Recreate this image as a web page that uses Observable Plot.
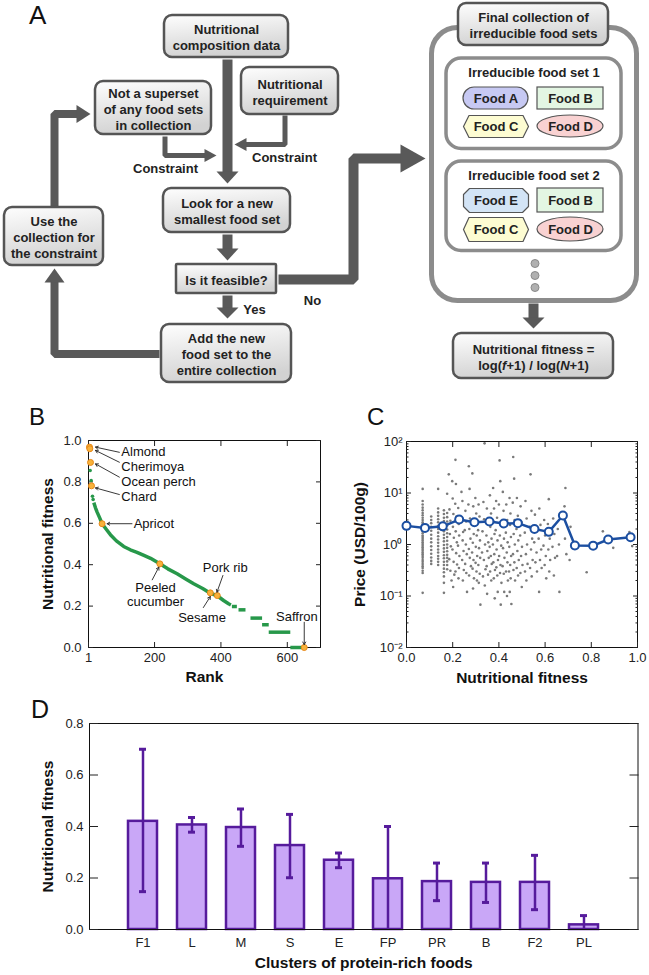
<!DOCTYPE html>
<html><head><meta charset="utf-8">
<script src="https://cdn.jsdelivr.net/npm/d3@7"></script>
<script src="https://cdn.jsdelivr.net/npm/@observablehq/plot@0.6"></script>
<style>
body{margin:0;background:#fff;}
#fig{position:relative;width:649px;height:975px;overflow:hidden;background:#fff;font-family:"Liberation Sans",Arial,Helvetica,sans-serif;}
.plabel{position:absolute;line-height:1;color:#111;font-family:"Liberation Sans",Arial,sans-serif;}
</style></head><body><div id="fig"></div>
<script>
// ================= Panel A (flowchart) =================
const flowBoxText = ["Nutritional\ncomposition data","Nutritional\nrequirement","Not a superset\nof any food sets\nin collection","Look for a new\nsmallest food set","Use the\ncollection for\nthe constraint","Is it feasible?","Add the new\nfood set to the\nentire collection","Final collection of\nirreducible food sets","Nutritional fitness =\nlog(f+1) / log(N+1)"];
const flowBoxLayout = [[164,15,288,57],[241,67,338,114],[95,81,211,134],[163,188,290,232],[4,207,103,265],[176,264,276,293],[161,324,291,382],[458,3,608,45],[453,333,613,378]];
const flowNoteText = ["Constraint","Constraint","Yes","No"];
const flowNoteLayout = [[165,168],[284,157],[254,309],[312,300]];
const setTitles = ["Irreducible food set 1","Irreducible food set 2"];
const setLayout = [[446,58,621,148.5],[446,161,621,250.5]];
const containerLayout = [431.5,27.5,636.5,300.5];
const foodNames = ["Food A","Food B","Food C","Food D","Food E","Food B","Food C","Food D"];
const foodShapes = ["pill","rect","hex","ellipse","oct","rect","hex","ellipse"];
const foodFill = ["#c7c9f3","#e3f6e3","#fdfcd2","#f9d2d2","#d3e4f6","#e3f6e3","#fdfcd2","#f9d2d2"];
const foodLayout = [[463,87,528,109],[537,87,603,109],[463,115,528,137],[537,115,603,137],[463,188,528,212],[537,188,603,212],[463,217,528,241],[537,217,603,241]];
const moreDotsLayout = [263,275,287];
const arrowPaths = [
  [[227,59],[227,183]],
  [[164.5,136],[164.5,155],[216,155]],
  [[284.5,115],[284.5,144],[234,144]],
  [[227,234],[227,260]],
  [[227,295],[227,318]],
  [[159,353.5],[54,353.5],[54,268]],
  [[54,207],[54,113.5],[90,113.5]],
  [[278,279],[353,279],[353,158],[425,158]],
  [[533,303],[533,328]]
];
const arrowWidth = [10,5,5,10,10,8,8,10,10];
const arrowHead = [[12,11],[12,6.5],[12,6.5],[12,11],[11,11],[14,10],[14,9],[25,14],[11,11]];

// ================= Panel B =================
const bRankTicks = [1,200,400,600];
const bFitTicks = [0,0.2,0.4,0.6,0.8,1.0];
const bMainRank = [17,22,27,35,42,55,67,85,107,127,147,168,188,216,240,268,295,318,345,368,389,408,423,430];
const bMainFit  = [0.70,0.675,0.654,0.625,0.598,0.57,0.545,0.515,0.488,0.472,0.46,0.445,0.431,0.404,0.38,0.356,0.33,0.308,0.285,0.262,0.25,0.227,0.211,0.205];
const bStepStart = [433,453,489,524,544,609];
const bStepEnd   = [448,474,524,544,609,651];
const bStepFit   = [0.198,0.182,0.142,0.11,0.074,0.0];
const bTopRank = [6,9,13,15];
const bTopFit  = [0.855,0.807,0.731,0.715];
const bFoods = ["Almond","Cherimoya","Ocean perch","Chard","Apricot","Peeled\ncucumber","Sesame","Pork rib","Saffron"];
const bFoodRank = [4,5,7,10,42,216,368,389,651];
const bFoodFit  = [0.968,0.96,0.894,0.781,0.598,0.404,0.264,0.251,0.0];
const bLabelRank = [100,100,100,100,137,203,343,413,629];
const bLabelFit  = [0.943,0.871,0.799,0.726,0.598,0.254,0.146,0.385,0.15];
const bLabelAnchor = ["start","start","start","start","start","middle","middle","middle","middle"];
const bArrowFromRank = [94,94,94,94,132,193,347,406,651];
const bArrowFromFit  = [0.943,0.895,0.823,0.739,0.598,0.327,0.193,0.348,0.122];
const bArrowToRank = [22,22,22,22,57,213,368,388,651];
const bArrowToFit  = [0.968,0.952,0.887,0.771,0.598,0.388,0.246,0.267,0.014];

// ================= Panel C =================
const cFitTicks = [0,0.2,0.4,0.6,0.8,1.0];
const cDecades = [0.01,0.1,1,10,100];
const cDecadeLabels = ["10\u207B\u00B2","10\u207B\u00B9","10\u2070","10\u00B9","10\u00B2"];
const cMinorTicks = [0.02,0.03,0.04,0.05,0.06,0.07,0.08,0.09,0.2,0.3,0.4,0.5,0.6,0.7,0.8,0.9,2,3,4,5,6,7,8,9,20,30,40,50,60,70,80,90];
const cColumnFit = [0.07,0.107,0.137,0.162,0.176];
const cColumnPrices = [
  [12,7,6,5.2,4.6,4.1,3.7,3.3,3.0,2.7,2.5,2.3,2.1,1.95,1.8,1.65,1.5,1.4,1.3,1.2,1.1,1.02,0.95,0.88,0.82,0.76,0.7,0.65,0.6,0.55,0.5,0.46,0.42,0.38,0.35,0.31,0.28,0.115],
  [3.5,3.0,2.6,2.2,1.85,1.55,1.3,1.1,0.92,0.78,0.66,0.56,0.48,0.42],
  [12,5,4.2,3.6,3.1,2.7,2.3,2.0,1.7,1.45,1.25,1.08,0.93,0.8,0.7,0.6,0.53,0.46,0.4],
  [4.6,3.9,3.3,2.85,2.45,2.1,1.8,1.55,1.33,1.15,0.98,0.84,0.72,0.62,0.54,0.46,0.4,0.34,0.29,0.24,0.18,0.115],
  [9.7,4.1,3.4,2.8,2.35,1.95,1.65,1.4,1.18,1.0,0.86,0.74,0.63,0.55,0.47,0.4,0.33]
];
const cScatterPairs = [
 [0.183,23],[0.186,4.8],[0.19,2.9],[0.188,1.6],[0.192,0.92],[0.185,0.52],[0.19,0.31],[0.195,0.2],
 [0.198,17],[0.2,7.8],[0.203,3.9],[0.201,2.2],[0.205,1.35],[0.199,0.8],[0.204,0.46],[0.207,0.26],[0.202,0.15],
 [0.212,44],[0.214,15],[0.211,6.2],[0.216,3.5],[0.213,1.8],[0.218,1.1],[0.215,0.68],[0.219,0.41],[0.212,0.3],
 [0.224,5.1],[0.226,2.5],[0.228,1.5],[0.223,0.95],[0.229,0.6],[0.227,0.35],[0.225,0.22],
 [0.238,10.5],[0.242,7],[0.24,3],[0.245,1.75],[0.243,1.2],[0.247,0.75],[0.241,0.5],[0.248,0.32],[0.244,0.2],
 [0.255,4.5],[0.258,2.8],[0.252,1.9],[0.257,1.0],[0.261,0.65],[0.254,0.42],[0.259,0.28],[0.262,0.12],
 [0.27,33],[0.273,12],[0.268,6],[0.275,3.2],[0.272,2.0],[0.277,1.3],[0.27,0.82],[0.274,0.55],[0.279,0.38],[0.271,0.25],
 [0.285,24],[0.289,5.5],[0.283,2.6],[0.291,1.6],[0.287,1.08],[0.284,0.7],[0.29,0.5],[0.286,0.34],[0.292,0.22],[0.288,0.14],
 [0.298,8],[0.302,4],[0.297,2.35],[0.304,1.5],[0.3,0.9],[0.306,0.6],[0.299,0.44],[0.303,0.3],[0.305,0.2],
 [0.312,6],[0.316,3.5],[0.31,1.9],[0.318,1.2],[0.314,0.85],[0.319,0.55],[0.311,0.4],[0.317,0.27],[0.313,0.18],[0.32,0.068],
 [0.338,92],[0.333,6.7],[0.336,3.1],[0.329,1.8],[0.34,1.0],[0.327,0.7],[0.335,0.5],[0.342,0.33],[0.331,0.24],[0.339,0.16],
 [0.348,5],[0.352,2.6],[0.346,1.5],[0.354,1.1],[0.35,0.75],[0.356,0.55],[0.347,0.38],[0.353,0.26],[0.349,0.11],
 [0.361,9],[0.366,4],[0.363,2.2],[0.368,1.3],[0.36,0.9],[0.365,0.6],[0.369,0.42],[0.362,0.3],[0.367,0.2],
 [0.375,12.5],[0.379,5],[0.377,2.8],[0.381,1.6],[0.374,1.0],[0.38,0.65],[0.376,0.45],[0.383,0.32],[0.378,0.22],[0.382,0.09],
 [0.388,7],[0.392,3.3],[0.386,1.9],[0.394,1.2],[0.39,0.8],[0.396,0.5],[0.389,0.36],[0.393,0.25],[0.395,0.12],
 [0.403,43],[0.406,17],[0.4,6],[0.409,2.5],[0.404,1.5],[0.41,0.95],[0.401,0.6],[0.407,0.4],[0.405,0.28],[0.411,0.18],[0.408,0.068],
 [0.417,10.5],[0.42,4.5],[0.415,2.2],[0.422,1.3],[0.418,0.85],[0.424,0.55],[0.416,0.38],[0.421,0.27],[0.423,0.12],
 [0.432,6],[0.436,3],[0.43,1.7],[0.438,1.1],[0.434,0.7],[0.437,0.45],[0.431,0.3],[0.439,0.2],[0.435,0.1],
 [0.446,8],[0.45,4],[0.448,2.4],[0.452,1.4],[0.445,0.9],[0.453,0.6],[0.449,0.4],[0.444,0.3],[0.451,0.22],[0.447,0.12],[0.454,0.07],
 [0.462,50],[0.466,19],[0.46,6.5],[0.468,3],[0.464,1.6],[0.469,1.0],[0.461,0.65],[0.467,0.45],[0.463,0.32],[0.47,0.2],
 [0.478,8],[0.482,3.6],[0.476,2.0],[0.484,1.2],[0.48,0.75],[0.486,0.5],[0.477,0.35],[0.483,0.25],
 [0.494,5.5],[0.498,2.7],[0.492,1.5],[0.5,0.9],[0.496,0.6],[0.502,0.4],[0.493,0.28],[0.499,0.15],
 [0.515,7],[0.52,3.2],[0.512,1.7],[0.522,1.0],[0.517,0.65],[0.524,0.42],[0.513,0.3],[0.519,0.2],
 [0.537,23],[0.541,4.5],[0.534,2.2],[0.544,1.3],[0.539,0.8],[0.546,0.5],[0.535,0.35],[0.542,0.24],
 [0.556,3.8],[0.561,1.9],[0.553,1.1],[0.563,0.7],[0.558,0.45],[0.565,0.3],
 [0.575,5],[0.58,2.4],[0.572,1.3],[0.583,0.8],[0.578,0.5],[0.585,0.35],[0.574,0.12],
 [0.596,3],[0.6,1.5],[0.593,0.95],[0.603,0.6],[0.598,0.4],[0.605,0.22],
 [0.616,7.6],[0.612,2.5],[0.62,1.3],[0.614,0.8],[0.622,0.5],[0.618,0.3],
 [0.635,3.2],[0.64,1.6],[0.632,0.9],[0.643,0.55],[0.638,0.25],
 [0.655,2.0],[0.66,1.0],[0.652,0.6],[0.662,0.12],
 [0.688,12.5],[0.684,5.5],[0.69,3.5],[0.686,1.3],[0.692,0.65],
 [0.706,0.5],[0.71,2.2],[0.72,0.85],[0.78,0.29],[0.85,1.8],[0.895,0.86],[0.977,0.93],[0.965,1.75]
];
const cBinFit   = [0.0,0.08,0.157,0.228,0.294,0.359,0.421,0.482,0.554,0.616,0.677,0.729,0.808,0.873,0.97];
const cBinPrice = [2.3,2.1,2.25,3.05,2.7,2.8,2.55,2.6,2.0,1.76,3.65,0.96,0.95,1.25,1.38];

// ================= Panel D =================
const dClusters = ["F1","L","M","S","E","FP","PR","B","F2","PL"];
const dMean = [0.42,0.406,0.396,0.326,0.269,0.197,0.186,0.183,0.183,0.018];
const dLow  = [0.147,0.378,0.323,0.201,0.24,0.0,0.112,0.105,0.077,0.0];
const dHigh = [0.70,0.435,0.468,0.447,0.297,0.40,0.258,0.258,0.288,0.054];
const dTicks = [0,0.2,0.4,0.6,0.8];

// ================= helpers =================
const FONT = '"Liberation Sans", Arial, Helvetica, sans-serif';
const fig = document.getElementById("fig");
function place(node, left, top) {
  node.style.position = "absolute";
  node.style.left = left + "px";
  node.style.top = top + "px";
  fig.appendChild(node);
}
function panelLabel(t, left, top, size) {
  const d = document.createElement("div");
  d.className = "plabel"; d.textContent = t; d.style.fontSize = size + "px";
  place(d, left, top);
}
const baseStyle = {fontFamily: FONT, fontSize: "13px", color: "#222", background: "transparent", overflow: "visible"};
const yTitle = (t, dx) => Plot.text([t], {frameAnchor: "left", dx, rotate: -90, textAnchor: "middle", lineAnchor: "middle", fontSize: 15.5, fontWeight: "bold", fill: "#111"});
const xTitle = (t, dy) => Plot.text([t], {frameAnchor: "bottom", dy, textAnchor: "middle", lineAnchor: "middle", fontSize: 15.5, fontWeight: "bold", fill: "#111"});

// ---------- build panel A ----------
const boxes = flowBoxText.map((t, i) => ({t, x1: flowBoxLayout[i][0], y1: flowBoxLayout[i][1], x2: flowBoxLayout[i][2], y2: flowBoxLayout[i][3]}));
const roundBoxes = boxes.filter((d, i) => i !== 5);
const sharpBoxes = boxes.filter((d, i) => i === 5);
const notes = flowNoteText.map((t, i) => ({t, x: flowNoteLayout[i][0], y: flowNoteLayout[i][1]}));
const sets = setTitles.map((t, i) => ({t, x1: setLayout[i][0], y1: setLayout[i][1], x2: setLayout[i][2], y2: setLayout[i][3]}));
const foods = foodNames.map((t, i) => ({t, shape: foodShapes[i], fill: foodFill[i], x1: foodLayout[i][0], y1: foodLayout[i][1], x2: foodLayout[i][2], y2: foodLayout[i][3]}));
const container = [{x1: containerLayout[0], y1: containerLayout[1], x2: containerLayout[2], y2: containerLayout[3]}];
const moreDots = moreDotsLayout.map(y => ({x: (container[0].x1 + container[0].x2) / 2 + 0.5, y}));

function polyPts(f) {
  const {x1, y1, x2, y2} = f, ym = (y1 + y2) / 2;
  if (f.shape === "hex") { const s = 5.5; return [[x1,ym],[x1+s,y1],[x2-s,y1],[x2,ym],[x2-s,y2],[x1+s,y2],[x1,ym]]; }
  const c = 6; return [[x1,y1+c],[x1+c,y1],[x2-c,y1],[x2,y1+c],[x2,y2-c],[x2-c,y2],[x1+c,y2],[x1,y2-c],[x1,y1+c]];
}
function arrowGeom(pts, hl, hw) {
  const n = pts.length, [tx, ty] = pts[n-1], [px, py] = pts[n-2];
  const L = Math.hypot(tx-px, ty-py), ux = (tx-px)/L, uy = (ty-py)/L;
  const bx = tx - ux*hl, by = ty - uy*hl;
  const shaft = pts.slice(0, n-1).concat([[bx + ux*1.5, by + uy*1.5]]);
  const head = [[bx - uy*hw, by + ux*hw], [tx, ty], [bx + uy*hw, by - ux*hw], [bx - uy*hw, by + ux*hw]];
  return {shaft, head};
}
const arrowMarks = arrowPaths.flatMap((p, i) => {
  const g = arrowGeom(p, arrowHead[i][0], arrowHead[i][1]);
  return [
    Plot.line(g.shaft, {x: d => d[0], y: d => d[1], stroke: "#595959", strokeWidth: arrowWidth[i], strokeLinejoin: "miter", strokeLinecap: "butt"}),
    Plot.line(g.head, {x: d => d[0], y: d => d[1], fill: "#595959", stroke: "none"})
  ];
});
const gradDefs = () => {
  const defs = document.createElementNS("http://www.w3.org/2000/svg", "defs");
  defs.innerHTML = '<linearGradient id="boxGrad" x1="0" y1="0" x2="0.25" y2="1"><stop offset="0" stop-color="#fefefe"/><stop offset="1" stop-color="#d2d2d2"/></linearGradient>';
  return defs;
};
const foodMarks = foods.map(f => {
  const ch = {x1: "x1", y1: "y1", x2: "x2", y2: "y2", fill: f.fill, stroke: "#555", strokeWidth: 1.2};
  if (f.shape === "rect") return Plot.rect([f], ch);
  if (f.shape === "pill") return Plot.rect([f], {...ch, rx: 11});
  if (f.shape === "ellipse") return Plot.rect([f], {...ch, rx: 33, ry: 12});
  return Plot.line(polyPts(f), {x: d => d[0], y: d => d[1], fill: f.fill, stroke: "#555", strokeWidth: 1.2});
});
const cx = d => (d.x1 + d.x2) / 2, cy = d => (d.y1 + d.y2) / 2;

const plotA = Plot.plot({
  width: 649, height: 390, margin: 0,
  x: {domain: [0, 649], range: [0, 649], axis: null},
  y: {domain: [0, 390], range: [0, 390], axis: null},
  style: baseStyle,
  marks: [
    gradDefs,
    Plot.rect(container, {x1: "x1", y1: "y1", x2: "x2", y2: "y2", rx: 26, fill: "white", stroke: "#8c8c8c", strokeWidth: 5}),
    Plot.rect(sets, {x1: "x1", y1: "y1", x2: "x2", y2: "y2", rx: 15, fill: "white", stroke: "#8c8c8c", strokeWidth: 3.5}),
    ...arrowMarks,
    Plot.rect(roundBoxes, {x1: "x1", y1: "y1", x2: "x2", y2: "y2", rx: 8, fill: "url(#boxGrad)", stroke: "#555", strokeWidth: 2.5}),
    Plot.rect(sharpBoxes, {x1: "x1", y1: "y1", x2: "x2", y2: "y2", rx: 1, fill: "url(#boxGrad)", stroke: "#555", strokeWidth: 2.5}),
    ...foodMarks,
    Plot.dot(moreDots, {x: "x", y: "y", r: 4, fill: "#b0b0b0", stroke: "#8a8a8a", strokeWidth: 1}),
    Plot.text(boxes, {x: cx, y: d => cy(d) + 0.5, text: "t", fontSize: 13, fontWeight: "bold", lineHeight: 1.23, fill: "#222"}),
    Plot.text(sets, {x: cx, y: d => d.y1 + 14, text: "t", fontSize: 13, fontWeight: "bold", fill: "#222"}),
    Plot.text(foods, {x: cx, y: d => cy(d) + 0.5, text: "t", fontSize: 13, fontWeight: "bold", fill: "#222"}),
    Plot.text(notes, {x: "x", y: "y", text: "t", fontSize: 13, fontWeight: "bold", fill: "#222"})
  ]
});
plotA.querySelectorAll("tspan, text").forEach(el => {
  if (el.childElementCount === 0 && el.textContent === "log(f+1) / log(N+1)") {
    el.innerHTML = 'log(<tspan font-style="italic">f</tspan>+1) / log(<tspan font-style="italic">N</tspan>+1)';
  }
});
place(plotA, 0, 0);

// ---------- build panel B ----------
const bCurve = [
  ...bMainRank.map((r, i) => ({rank: r, fit: bMainFit[i], seg: "main"})),
  ...bStepStart.flatMap((s, i) => [{rank: s, fit: bStepFit[i], seg: "s" + i}, {rank: bStepEnd[i], fit: bStepFit[i], seg: "s" + i}])
];
const bTop = bTopRank.map((r, i) => ({rank: r, fit: bTopFit[i]}));
const bAnn = bFoods.map((n, i) => ({name: n, rank: bFoodRank[i], fit: bFoodFit[i], lx: bLabelRank[i], ly: bLabelFit[i], anchor: bLabelAnchor[i],
  x1: bArrowFromRank[i], y1: bArrowFromFit[i], x2: bArrowToRank[i], y2: bArrowToFit[i]}));
const green = "#27984a";
const plotB = Plot.plot({
  width: 330, height: 300, marginLeft: 88, marginRight: 10, marginTop: 40, marginBottom: 53,
  x: {domain: [1, 700]}, y: {domain: [0, 1]},
  style: baseStyle,
  marks: [
    Plot.frame({stroke: "#111", strokeWidth: 1}),
    Plot.axisX({ticks: bRankTicks, tickSize: -5, tickPadding: 10, label: null, fontSize: 13}),
    Plot.axisX({anchor: "top", ticks: bRankTicks, tickSize: -5, tickFormat: () => "", label: null}),
    Plot.axisY({ticks: bFitTicks, tickSize: -5, tickPadding: 12, tickFormat: ".1f", label: null, fontSize: 13}),
    Plot.axisY({anchor: "right", ticks: bFitTicks, tickSize: -5, tickFormat: () => "", label: null}),
    Plot.line(bCurve, {x: "rank", y: "fit", z: "seg", stroke: green, strokeWidth: 3.5, strokeLinecap: "butt"}),
    Plot.dot(bTop, {x: "rank", y: "fit", r: 1.8, fill: green}),
    Plot.dot(bAnn, {x: "rank", y: "fit", r: 3, fill: "#f7b23b", stroke: "#e8891a", strokeWidth: 1}),
    Plot.arrow(bAnn, {x1: "x1", y1: "y1", x2: "x2", y2: "y2", stroke: "#222", strokeWidth: 0.9, headLength: 5}),
    Plot.text(bAnn.filter(d => d.anchor === "start"), {x: "lx", y: "ly", text: "name", textAnchor: "start", fontSize: 13, fill: "#111"}),
    Plot.text(bAnn.filter(d => d.anchor === "middle"), {x: "lx", y: "ly", text: "name", textAnchor: "middle", fontSize: 13, fill: "#111", lineHeight: 1.05}),
    xTitle("Rank", 30),
    yTitle("Nutritional fitness", -40)
  ]
});
place(plotB, 0, 400);

// ---------- build panel C ----------
const cScatter = [
  ...cColumnFit.flatMap((f, i) => cColumnPrices[i].map(p => ({f, p}))),
  ...cScatterPairs.map(([f, p]) => ({f, p}))
];
const cBins = cBinFit.map((f, i) => ({f, p: cBinPrice[i]}));
const blue = "#1c4fa1";
const plotC = Plot.plot({
  width: 319, height: 300, marginLeft: 76, marginRight: 12, marginTop: 41, marginBottom: 53,
  x: {domain: [0, 1]}, y: {type: "log", domain: [0.01, 100]},
  style: baseStyle,
  marks: [
    Plot.frame({stroke: "#111", strokeWidth: 1}),
    Plot.axisX({ticks: cFitTicks, tickSize: -5, tickPadding: 10, tickFormat: ".1f", label: null, fontSize: 13}),
    Plot.axisX({anchor: "top", ticks: cFitTicks, tickSize: -5, tickFormat: () => "", label: null}),
    Plot.axisY({ticks: cDecades, tickSize: -5, tickPadding: 9, tickFormat: d => cDecadeLabels[cDecades.indexOf(d)], label: null, fontSize: 13}),
    Plot.axisY({ticks: cMinorTicks, tickSize: -2.5, tickFormat: () => "", label: null}),
    Plot.axisY({anchor: "right", ticks: cDecades, tickSize: -5, tickFormat: () => "", label: null}),
    Plot.axisY({anchor: "right", ticks: cMinorTicks, tickSize: -2.5, tickFormat: () => "", label: null}),
    Plot.dot(cScatter, {x: "f", y: "p", r: 1.3, fill: "#7a7a7a"}),
    Plot.line(cBins, {x: "f", y: "p", stroke: blue, strokeWidth: 2.5}),
    Plot.dot(cBins, {x: "f", y: "p", r: 4, fill: "white", stroke: blue, strokeWidth: 2}),
    xTitle("Nutritional fitness", 31),
    yTitle("Price (USD/100g)", -46)
  ]
});
place(plotC, 330, 400);

// ---------- build panel D ----------
const dData = dClusters.map((c, i) => ({c, mean: dMean[i], low: dLow[i], high: dHigh[i]}));
const purpleFill = "#c9a7f7", purpleLine = "#561b9c";
const plotD = Plot.plot({
  width: 649, height: 275, marginLeft: 89, marginRight: 11.5, marginTop: 23, marginBottom: 46,
  x: {type: "band", domain: dClusters, paddingInner: 0.4, paddingOuter: 0.7},
  y: {domain: [0, 0.8]},
  style: baseStyle,
  marks: [
    Plot.barY(dData, {x: "c", y: "mean", fill: purpleFill, stroke: purpleLine, strokeWidth: 2.5}),
    Plot.ruleX(dData, {x: "c", y1: "low", y2: "high", stroke: purpleLine, strokeWidth: 2.5}),
    Plot.tickY(dData, {x: "c", y: "high", stroke: purpleLine, strokeWidth: 3, insetLeft: 11, insetRight: 11}),
    Plot.tickY(dData.filter(d => d.low > 0), {x: "c", y: "low", stroke: purpleLine, strokeWidth: 3, insetLeft: 11, insetRight: 11}),
    Plot.frame({stroke: "#111", strokeWidth: 1}),
    Plot.axisX({tickSize: 0, tickPadding: 8, label: null, fontSize: 13}),
    Plot.axisY({ticks: dTicks, tickSize: -9, tickPadding: 15, tickFormat: ".1f", label: null, fontSize: 13}),
    Plot.axisY({anchor: "right", ticks: dTicks, tickSize: -9, tickFormat: () => "", label: null}),
    xTitle("Clusters of protein-rich foods", 34),
    yTitle("Nutritional fitness", -41)
  ]
});
place(plotD, 0, 700);

// ---------- panel letters ----------
panelLabel("A", 29, 2, 26);
panelLabel("B", 29, 405, 24);
panelLabel("C", 367, 405, 24);
panelLabel("D", 31, 697, 25);
</script></body></html>
